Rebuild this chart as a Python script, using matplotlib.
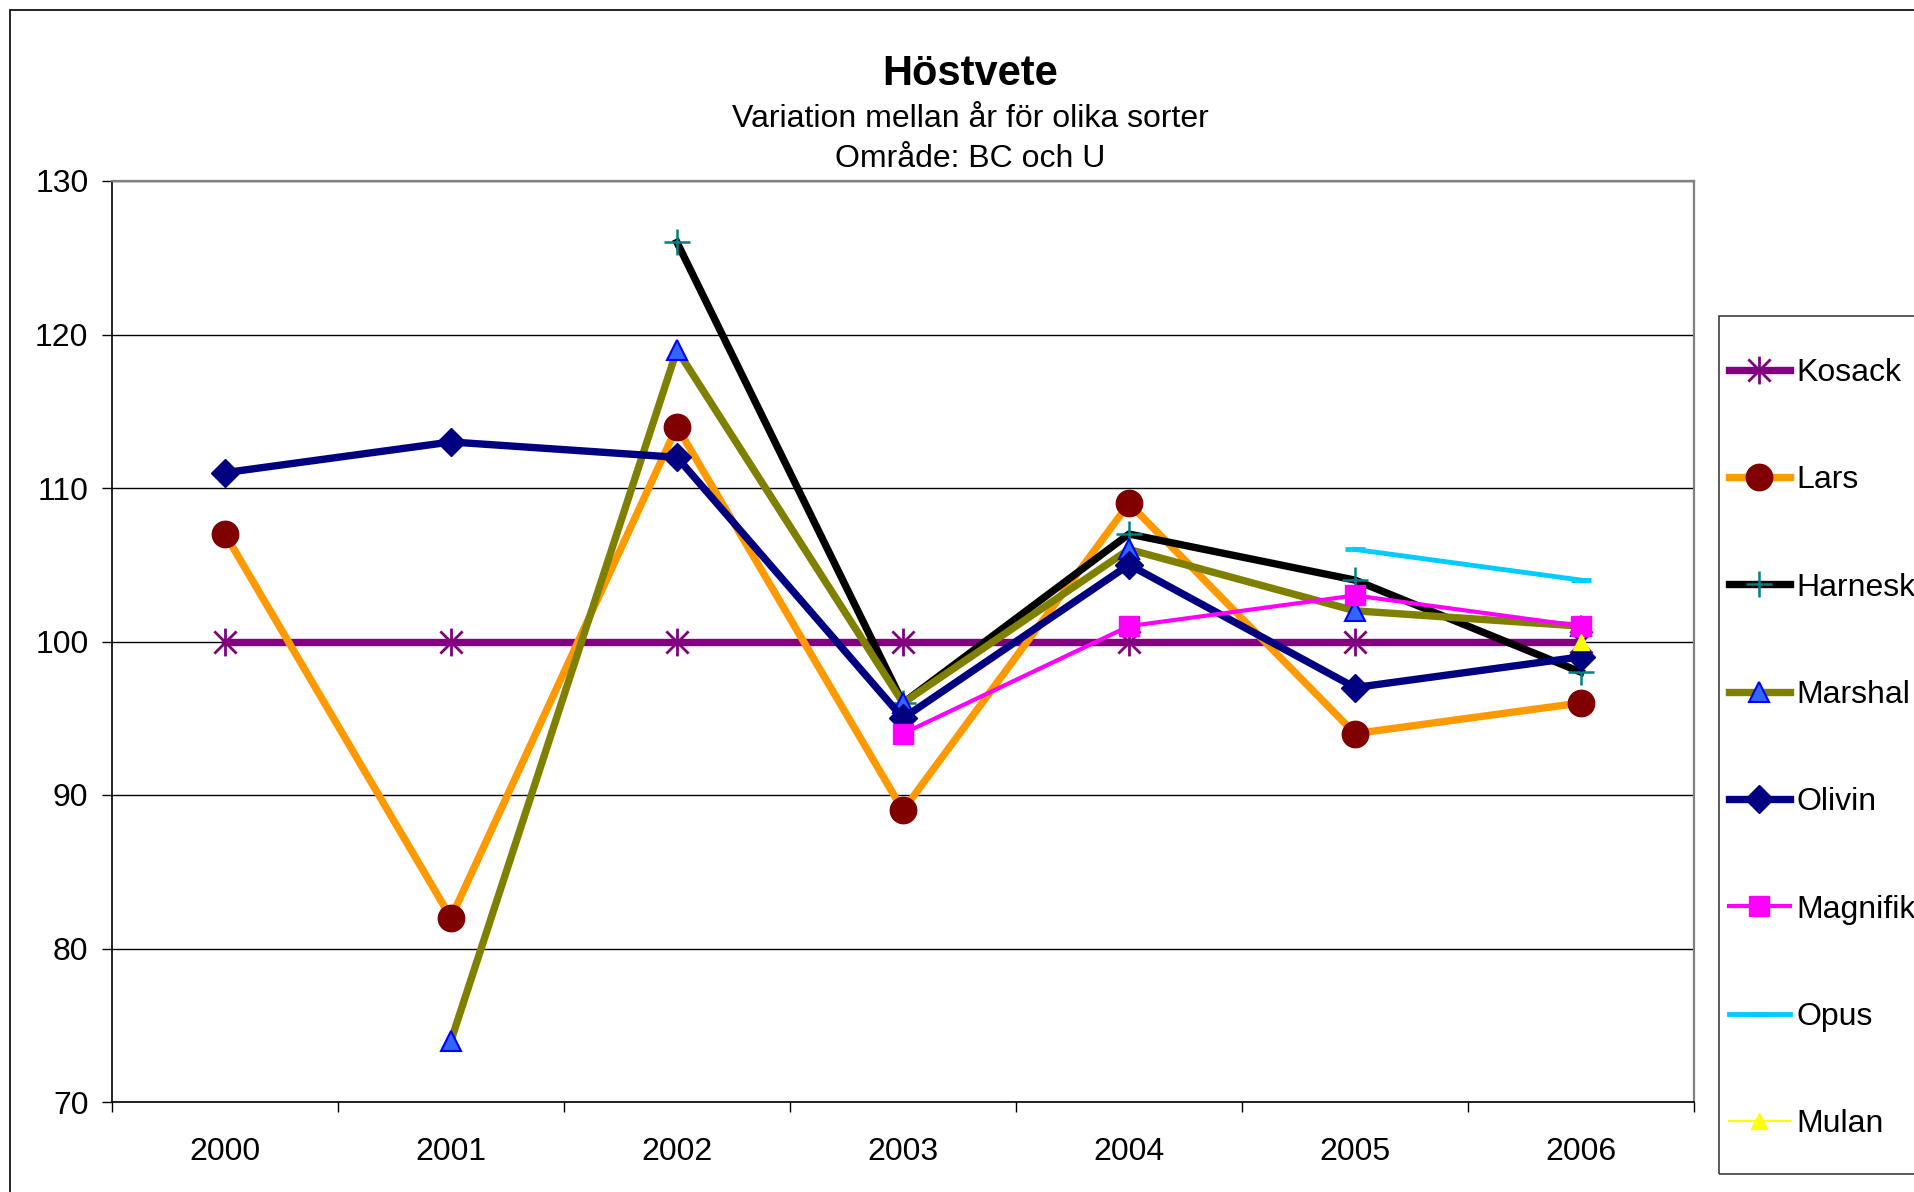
"""Höstvete - variation mellan år"""
import numpy as np
import matplotlib
matplotlib.use('Agg')
import matplotlib.pyplot as plt
from matplotlib.path import Path
from matplotlib.patches import Rectangle

plt.rcParams['font.family'] = ['Liberation Sans', 'DejaVu Sans']

# data (relativtal, Kosack = 100)
years = ['2000', '2001', '2002', '2003', '2004', '2005', '2006']
nan = np.nan
kosack = [100, 100, 100, 100, 100, 100, 100]
lars = [107, 82, 114, 89, 109, 94, 96]
harnesk = [nan, nan, 126, 96, 107, 104, 98]
marshal = [nan, 74, 119, 96, 106, 102, 101]
olivin = [111, 113, 112, 95, 105, 97, 99]
magnifik = [nan, nan, nan, 94, 101, 103, 101]
opus = [nan, nan, nan, nan, nan, 106, 104]
mulan = [nan, nan, nan, nan, nan, nan, 100]

W, H = 1914, 1192
fig = plt.figure(figsize=(W / 100, H / 100), dpi=100)
ax = fig.add_axes([112 / W, 1 - 1102 / H, (1694 - 112) / W, (1102 - 181) / H])

x = np.arange(len(years))

# Excel-liknande asterisk: lodrät linje + kryss
star = Path([(0, -1), (0, 1), (-0.8, -0.8), (0.8, 0.8), (-0.8, 0.8), (0.8, -0.8)],
            [Path.MOVETO, Path.LINETO, Path.MOVETO, Path.LINETO, Path.MOVETO, Path.LINETO])

series = [
    ('Kosack', kosack, dict(color='#800080', lw=5.3, marker=star, ms=20, mec='#800080', mew=2)),
    ('Lars', lars, dict(color='#FF9900', lw=5.3, marker='o', ms=19, mfc='#800000', mec='#800000')),
    ('Harnesk', harnesk, dict(color='black', lw=5.3, marker='+', ms=19, mec='#008080', mew=1.8)),
    ('Marshal', marshal, dict(color='#808000', lw=5.3, marker='^', ms=15, mfc='#3366FF', mec='#0000FF', mew=1.5)),
    ('Olivin', olivin, dict(color='#000080', lw=5.3, marker='D', ms=14, mfc='#000080', mec='#000080')),
    ('Magnifik', magnifik, dict(color='#FF00FF', lw=3, marker='s', ms=15, mfc='#FF00FF', mec='#FF00FF')),
    ('Opus', opus, dict(color='#00CCFF', lw=3.5, marker='_', ms=15, mec='#00CCFF', mew=3.5)),
    ('Mulan', mulan, dict(color='#FFFF00', lw=1.5, marker='^', ms=12, mfc='#FFFF00', mec='#FFFF00')),
]

handles = []
for i, (name, vals, style) in enumerate(series):
    ln, = ax.plot(x, vals, label=name, zorder=3 + i, clip_on=False, **style)
    handles.append(ln)

# axlar
ax.set_xlim(-0.5, len(years) - 0.5)
ax.set_ylim(70, 130)
ax.set_yticks(np.arange(70, 131, 10))
ax.set_xticks(np.arange(-0.5, len(years), 1.0))
ax.set_xticklabels([])
ax.set_xticks(x, minor=True)
ax.set_xticklabels(years, minor=True)
ax.tick_params(axis='x', which='major', direction='out', length=7, width=1, color='black')
ax.tick_params(axis='x', which='minor', length=0, pad=25, labelsize=23)
ax.tick_params(axis='y', direction='out', length=7, width=1, pad=10, labelsize=23)
ax.yaxis.grid(True, color='black', lw=1)
ax.set_axisbelow(True)
for side in ['top', 'right']:
    ax.spines[side].set_color('#808080')
    ax.spines[side].set_linewidth(1.6)
for side in ['left', 'bottom']:
    ax.spines[side].set_color('black')
    ax.spines[side].set_linewidth(1.2)

# rubriker
fig.text(970 / W, 1 - 74 / H, 'Höstvete', ha='center', va='center', fontsize=30, fontweight='bold')
fig.text(970 / W, 1 - 119 / H, 'Variation mellan år för olika sorter', ha='center', va='center', fontsize=23)
fig.text(970 / W, 1 - 159 / H, 'Område: BC och U', ha='center', va='center', fontsize=23)

# förklaring
fig.legend(handles=handles, loc='upper left', bbox_to_anchor=(1729 / W, 1 - 358 / H),
           frameon=False, borderpad=0, fontsize=23, handlelength=1.9,
           handletextpad=0.22, labelspacing=2.42, borderaxespad=0)
fig.patches.append(Rectangle((1719 / W, 1 - 1174 / H), 0.2, (1174 - 316) / H,
                             transform=fig.transFigure, fill=False, ec='#404040', lw=1.2))

# diagramram
fig.patches.append(Rectangle((10 / W, -0.1), 1.2, 1.1 - 10 / H,
                             transform=fig.transFigure, fill=False, ec='black', lw=1.2))

fig.savefig('out.png', dpi=100)
